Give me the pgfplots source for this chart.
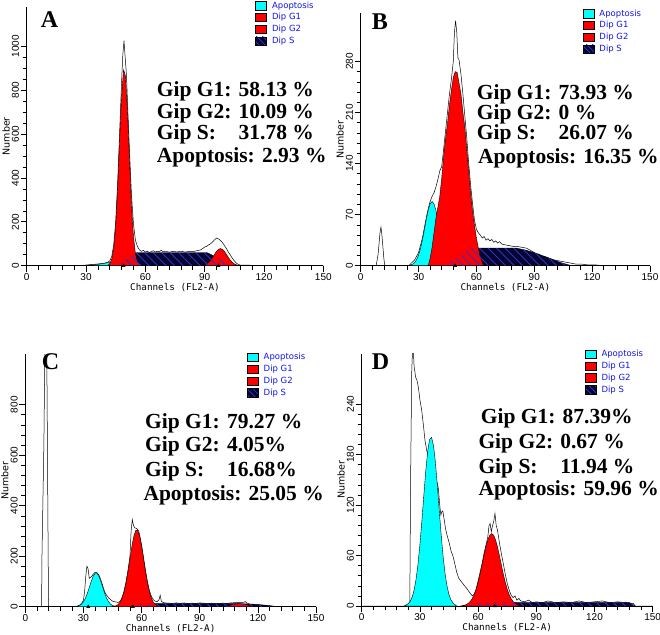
\documentclass[border=0pt]{standalone}
\usepackage{fontspec}
\setmainfont{Liberation Serif}
\newfontfamily\tickfont{Liberation Sans}
\newfontfamily\labfont{DejaVu Sans Mono}
\newfontfamily\legfont{DejaVu Sans}
\usepackage{pgfplots}
\pgfplotsset{compat=1.18}
\usetikzlibrary{patterns.meta}

\definecolor{apo}{RGB}{0,255,255}
\definecolor{gred}{RGB}{255,0,0}
\definecolor{sfill}{RGB}{5,5,50}
\definecolor{hatch}{RGB}{50,50,200}
\definecolor{legblue}{RGB}{20,20,235}

\newcommand{\bigtxt}{\bfseries\fontsize{21.5}{24}\selectfont}
\newcommand{\lettertxt}{\bfseries\fontsize{24}{26}\selectfont}

\pgfplotsset{
  flow/.style={
    scale only axis, axis lines*=left, clip=true,
    xmin=0, xmax=150, ymin=0,
    xtick={0,30,...,150}, minor x tick num=4,
    tick align=outside, major tick length=6pt, minor tick length=4pt,
    tick style={black, line width=0.6pt},
    axis line style={black, line width=0.8pt},
    scaled y ticks=false,
    tick label style={font=\tickfont\fontsize{10}{11}\selectfont},
    /pgf/number format/assume math mode=true,
    /pgf/number format/1000 sep={},
    yticklabel style={rotate=90, anchor=south, inner sep=1.5pt},
    xticklabel style={inner sep=1.5pt},
    xlabel={Channels (FL2-A)}, ylabel={Number},
    xlabel style={font=\labfont\fontsize{9.3}{10}\selectfont,
      at={(axis description cs:0.5,0)}, anchor=center, yshift=-21.6pt},
    ylabel style={font=\legfont\fontsize{9.5}{10}\selectfont,
      at={(axis description cs:0,0.5)}, anchor=center, yshift=20.5pt},
    legend style={draw=none, fill=none, anchor=north west,
      font=\legfont\fontsize{8.5}{9}\selectfont, text=legblue,
      row sep=0.8pt, column sep=4pt, inner sep=0pt,
      nodes={inner sep=1pt, text height=7pt, text depth=2pt}},
    legend cell align=left,
    legend image code/.code={\draw[#1] (0pt,-4.2pt) rectangle (11pt,4.2pt);},
  },
  rawline/.style={black, line width=0.5pt},
  comp/.style={draw=black, line width=0.4pt},
  sphase/.style={fill=sfill, draw=black, line width=0.4pt},
  shatch/.style={draw=none, pattern={Lines[angle=-45,distance=6pt,line width=0.9pt]}, pattern color=hatch},
  tri/.style={only marks, mark=triangle*, mark size=1.8pt, black},
}

\newcommand{\flowlegend}{%
  \addlegendimage{fill=apo, draw=black}\addlegendentry{Apoptosis}
  \addlegendimage{fill=gred, draw=black}\addlegendentry{Dip G1}
  \addlegendimage{fill=gred, draw=black}\addlegendentry{Dip G2}
  \addlegendimage{fill=sfill, draw=black, postaction={pattern={Lines[angle=-45,distance=4pt,line width=0.8pt]}, pattern color=hatch}}\addlegendentry{Dip S}
}

\begin{document}
\begin{tikzpicture}
\useasboundingbox (0,0) rectangle (660pt,634pt);

% ---------------- A ----------------
\begin{axis}[flow, at={(26.7pt,368.3pt)}, anchor=south west,
  width=296.6pt, height=259pt, ymax=1180,
  ytick={0,200,...,1000}, minor y tick num=3,
  legend style={at={(0.77,1.026)}}]
\flowlegend
\addplot[rawline] coordinates {(0,0)(12,0)(12.5,3)(13,0)(28,0)(30,3)(32,5)(34,6)(36,8)(38,10)(40,13)(41,16)(42,22)(43,42)(44,95)(45,200)(46,380)(47,610)(48,840)(48.6,960)(49.2,1025)(49.8,950)(50.5,860)(51,740)(52,520)(53,320)(54,190)(55,115)(56,88)(57,72)(58,65)(59,70)(60,62)(61,66)(62,60)(63,64)(64,68)(65,62)(66,66)(67,63)(68,70)(69,64)(70,66)(72,62)(74,65)(76,63)(78,66)(80,62)(82,65)(84,64)(86,68)(88,72)(89,78)(90,85)(91,88)(92,95)(93,100)(94,108)(95,118)(96,126)(97,122)(98,115)(99,105)(100,92)(101,78)(102,62)(103,48)(104,34)(105,22)(106,12)(107,6)(108,3)(110,2)(112,3)(114,1)(116,0)(124,0)(125,2)(126,0)(150,0)};
\addplot[sphase] coordinates {(45,0)(47,8)(49,20)(51,33)(53,47)(55,57)(56,60)(91,60)(93,52)(95,42)(97,32)(99,22)(101,13)(103,5)(104,0)} \closedcycle;
\addplot[comp, fill=apo] coordinates {(30,0)(32,2)(34,4)(36,6)(38,9)(40,12)(41,14)(42,16)(43,17)(44,8)(45,0)} \closedcycle;
\addplot[comp, fill=gred] coordinates {(41,0)(42,8.8)(43,28.7)(44,78.6)(45,181)(46,350)(47,569)(48,777)(49,893)(50,862)(51,700)(52,478)(53,274)(54,132)(55,54)(56,18)(57,5)(58,0)} \closedcycle;
\addplot[comp, fill=gred] coordinates {(88,0)(89,1.9)(90,4.1)(91,8.2)(92,14.9)(93,24.7)(94,37.4)(95,51.6)(96,64.9)(97,74.5)(98,78)(99,74.5)(100,64.9)(101,51.6)(102,37.4)(103,24.7)(104,14.9)(105,8.2)(106,4.1)(107,1.9)(108,0)} \closedcycle;
\addplot[shatch] coordinates {(45,0)(47,8)(49,20)(51,33)(53,47)(55,57)(56,60)(91,60)(93,52)(95,42)(97,32)(99,22)(101,13)(103,5)(104,0)} \closedcycle;
\addplot[tri] coordinates {(49,0)(97,0)};
\end{axis}

% ---------------- B ----------------
\begin{axis}[flow, at={(360.7pt,368.3pt)}, anchor=south west,
  width=289.3pt, height=252.4pt, ymax=346,
  ytick={0,70,...,280}, minor y tick num=4,
  legend style={at={(0.768,1.021)}}]
\flowlegend
\addplot[rawline] coordinates {(0,0)(8,0)(9,15)(10,45)(10.5,53)(11,42)(12,10)(12.5,0)(25,0)(26,3)(28,8)(30,18)(32,38)(34,66)(35,78)(36,88)(37,95)(38,100)(39,108)(40,118)(41,130)(42,136)(43,160)(44,185)(45,210)(46,235)(47,255)(48,280)(48.6,320)(49.2,336)(49.8,320)(50.4,285)(51,282)(52,262)(53,235)(54,205)(55,175)(56,140)(57,110)(58,85)(59,62)(60,50)(61,45)(62,42)(63,38)(64,40)(65,35)(66,37)(67,34)(68,36)(69,32)(70,34)(71,31)(72,33)(73,30)(74,29)(76,28)(78,27)(80,26)(82,26)(84,25)(86,24)(88,21)(90,18)(91,14)(92,16)(94,13)(96,12)(98,10)(100,8)(102,7)(104,6)(106,5)(108,4)(110,3)(112,2)(115,2)(118,1)(122,1)(126,0)(150,0)};
\addplot[sphase] coordinates {(43,0)(46,5)(50,12)(54,19)(57,24)(81,24)(86,21)(91,17)(96,12)(100,8)(104,4)(108,1)(110,0)} \closedcycle;
\addplot[comp, fill=apo] coordinates {(24,0)(25,0.5)(26,1.1)(27,2.3)(28,4.6)(29,8.5)(30,14.7)(31,23.6)(32,35.3)(33,49.1)(34,63.4)(35,76)(36,84.8)(37,88)(38,84.8)(39,76)(40,63.4)(41,49.1)(42,35.3)(43,23.6)(44,14.7)(45,8.5)(46,4.6)(47,2.3)(48,1.1)(49,0)} \closedcycle;
\addplot[comp, fill=gred] coordinates {(35,0)(36,10)(37,25)(38,45)(39,65)(40,80)(41,95)(42,120)(43,150)(44,175)(45,195)(46,220)(47,240)(48,258)(49,266)(50,265)(51,250)(52,235)(53,210)(54,190)(55,160)(56,130)(57,100)(58,75)(59,55)(60,38)(61,24)(62,12)(63,4)(64,0)} \closedcycle;
\addplot[shatch] coordinates {(43,0)(46,5)(50,12)(54,19)(57,24)(81,24)(86,21)(91,17)(96,12)(100,8)(104,4)(108,1)(110,0)} \closedcycle;
\addplot[tri] coordinates {(49,0)};
\end{axis}

% ---------------- C ----------------
\begin{axis}[flow, at={(25.3pt,27.3pt)}, anchor=south west,
  width=290.7pt, height=252.5pt, ymax=1000,
  ytick={0,200,...,800}, minor y tick num=4,
  legend style={at={(0.763,1.010)}}]
\flowlegend
\addplot[rawline] coordinates {(0,0)(8.4,0)(8.6,200)(9.6,650)(10.2,1100)(11,1100)(11.4,650)(11.8,200)(12,0)(26,0)(27,3)(28,6)(29,12)(30,25)(30.6,60)(31.2,120)(31.8,160)(32.4,150)(33,112)(34,118)(35,128)(36,136)(37,135)(38,125)(39,106)(40,82)(41,58)(42,45)(43,35)(44,28)(45,22)(46,20)(47,18)(48,17)(49,22)(50,38)(51,64)(52,100)(53,145)(54,200)(54.6,300)(55.2,345)(55.8,322)(56.5,312)(57.5,310)(58.5,300)(59,285)(60,245)(61,195)(62,145)(63,100)(64,66)(65,42)(66,28)(67,22)(68,20)(69,28)(69.6,45)(70.2,22)(71,17)(72,15)(74,14)(76,13)(78,15)(80,13)(82,15)(84,12)(86,14)(88,13)(90,15)(92,14)(94,12)(96,14)(98,12)(100,13)(102,14)(104,13)(106,15)(108,16)(110,17)(112,16)(113.5,20)(114.5,14)(116,10)(118,8)(120,7)(122,5)(125,4)(128,2)(130,0)(150,0)};
\addplot[sphase] coordinates {(48,0)(52,4)(56,8)(60,10)(66,12)(110,12)(118,10)(124,6)(130,0)} \closedcycle;
\addplot[comp, fill=apo] coordinates {(25,0)(26,0.8)(27,2.1)(28,4.8)(29,10.1)(30,19.1)(31,33.2)(32,52.5)(33,75.8)(34,99.9)(35,120)(36,131.5)(37,131.5)(38,120)(39,99.9)(40,75.8)(41,52.5)(42,33.2)(43,19.1)(44,10.1)(45,4.8)(46,2.1)(47,0.8)(48,0)} \closedcycle;
\addplot[comp, fill=gred] coordinates {(45,0)(46,1.9)(47,4.3)(48,9.4)(49,18.7)(50,34.7)(51,59.7)(52,94.9)(53,139.5)(54,190)(55,239.6)(56,279.6)(57,302)(58,302)(59,279.6)(60,239.6)(61,190)(62,139.5)(63,94.9)(64,59.7)(65,34.7)(66,18.7)(67,9.4)(68,4.3)(69,1.9)(70,0)} \closedcycle;
\addplot[comp, fill=gred] coordinates {(103,0)(105,4)(107,8)(109,11)(111,12)(113,10)(115,6)(117,2)(118,0)} \closedcycle;
\addplot[shatch] coordinates {(48,0)(52,4)(56,8)(60,10)(66,12)(110,12)(118,10)(124,6)(130,0)} \closedcycle;
\addplot[tri] coordinates {(32.5,0)(55.5,0)};
\end{axis}

% ---------------- D ----------------
\begin{axis}[flow, at={(361.7pt,28pt)}, anchor=south west,
  width=291pt, height=252.5pt, ymax=300,
  ytick={0,60,...,240}, minor y tick num=4,
  legend style={at={(0.767,1.02)}}]
\flowlegend
\addplot[rawline] coordinates {(0,0)(22,0)(24,2)(24.8,5)(25.2,150)(25.8,280)(26.4,315)(27,285)(27.8,272)(28.5,268)(29.2,260)(30,245)(30.9,233)(31.8,215)(32.6,197)(33.5,185)(34.4,177)(35.5,172)(36.5,168)(37.5,160)(38.5,150)(39.5,140)(40.3,118)(40.8,108)(41.3,112)(41.8,113)(42.5,103)(43.2,92)(44,84)(45,76)(46,66)(47.2,58)(48,50)(49,40)(50,33)(51,30)(52,27)(53,24)(54.1,21)(55,18)(56,15)(57,12)(58,14)(59,20)(60,30)(61,40)(62,50)(63,62)(64,72)(65,82)(65.6,95)(66.2,98)(66.8,88)(67.4,95)(68,100)(68.7,110)(69.3,96)(70,90)(71,75)(72,62)(73,50)(74,38)(75,27)(76,19)(77,13)(78,10)(79,12)(80,7)(81,9)(82,6)(84,5)(86,7)(88,4)(90,5)(93,4)(96,6)(100,4)(104,5)(108,4)(112,6)(116,4)(120,5)(124,6)(128,4)(132,5)(136,4)(140,3)(141,0)(150,0)};
\addplot[sphase] coordinates {(55,0)(60,3)(64,4)(138,4)(141,0)} \closedcycle;
\addplot[comp, fill=apo] coordinates {(22,0)(23,1.3)(24,2.8)(25,5.6)(26,10.6)(27,18.9)(28,31.6)(29,49.4)(30,72.8)(31,100.8)(32,131)(33,160)(34,183.7)(35,198)(36,200.4)(37,190.7)(38,170.4)(39,143)(40,112.8)(41,83.6)(42,58.1)(43,38)(44,23.4)(45,13.5)(46,7.3)(47,3.7)(48,1.8)(49,0)} \closedcycle;
\addplot[comp, fill=gred] coordinates {(51,0)(52,0.5)(53,1)(54,1.8)(55,3.3)(56,5.5)(57,8.9)(58,13.6)(59,20.1)(60,28.2)(61,37.9)(62,48.7)(63,59.8)(64,70.1)(65,78.5)(66,84.1)(67,86)(68,84.1)(69,78.5)(70,70.1)(71,59.8)(72,48.7)(73,37.9)(74,28.2)(75,20.1)(76,13.6)(77,8.9)(78,5.5)(79,3.3)(80,1.8)(81,1)(82,0)} \closedcycle;
\addplot[shatch] coordinates {(55,0)(60,3)(64,4)(138,4)(141,0)} \closedcycle;
\addplot[tri] coordinates {(68.5,0)};
\end{axis}

% ---------------- texts ----------------
\node[anchor=base west, inner sep=0pt] at (40.7pt,606.7pt) {\lettertxt A};
\node[anchor=base west, inner sep=0pt] at (371.7pt,604.7pt) {\lettertxt B};
\node[anchor=base west, inner sep=0pt] at (41.7pt,264pt) {\lettertxt C};
\node[anchor=base west, inner sep=0pt] at (371.7pt,264.7pt) {\lettertxt D};

\begin{scope}[every node/.style={anchor=base west, inner sep=0pt, font=\bigtxt}]
\node at (156.7pt,537.3pt) {Gip G1: 58.13 \%};
\node at (156.7pt,515.7pt) {Gip G2: 10.09 \%};
\node at (156.7pt,494pt) {\rlap{Gip S:}\phantom{Gip G1: }31.78 \%};
\node at (156.7pt,471.7pt) {Apoptosis: 2.93 \%};

\node at (476.7pt,534pt) {Gip G1: 73.93 \%};
\node at (476.7pt,514pt) {Gip G2: 0 \%};
\node at (476.7pt,494pt) {\rlap{Gip S:}\phantom{Gip G1: }26.07 \%};
\node at (478pt,470.7pt) {Apoptosis: 16.35 \%};

\node at (145pt,205.7pt) {Gip G1: 79.27 \%};
\node at (145pt,182.3pt) {Gip G2: 4.05\%};
\node at (145pt,157.3pt) {\rlap{Gip S:}\phantom{Gip G1: }16.68\%};
\node at (143.3pt,134pt) {Apoptosis: 25.05 \%};

\node at (480.7pt,210.7pt) {Gip G1: 87.39\%};
\node at (478.3pt,185.7pt) {Gip G2: 0.67 \%};
\node at (478.3pt,160.7pt) {\rlap{Gip S:}\phantom{Gip G1: }11.94 \%};
\node at (478.3pt,139pt) {Apoptosis: 59.96 \%};
\end{scope}
\end{tikzpicture}
\end{document}
